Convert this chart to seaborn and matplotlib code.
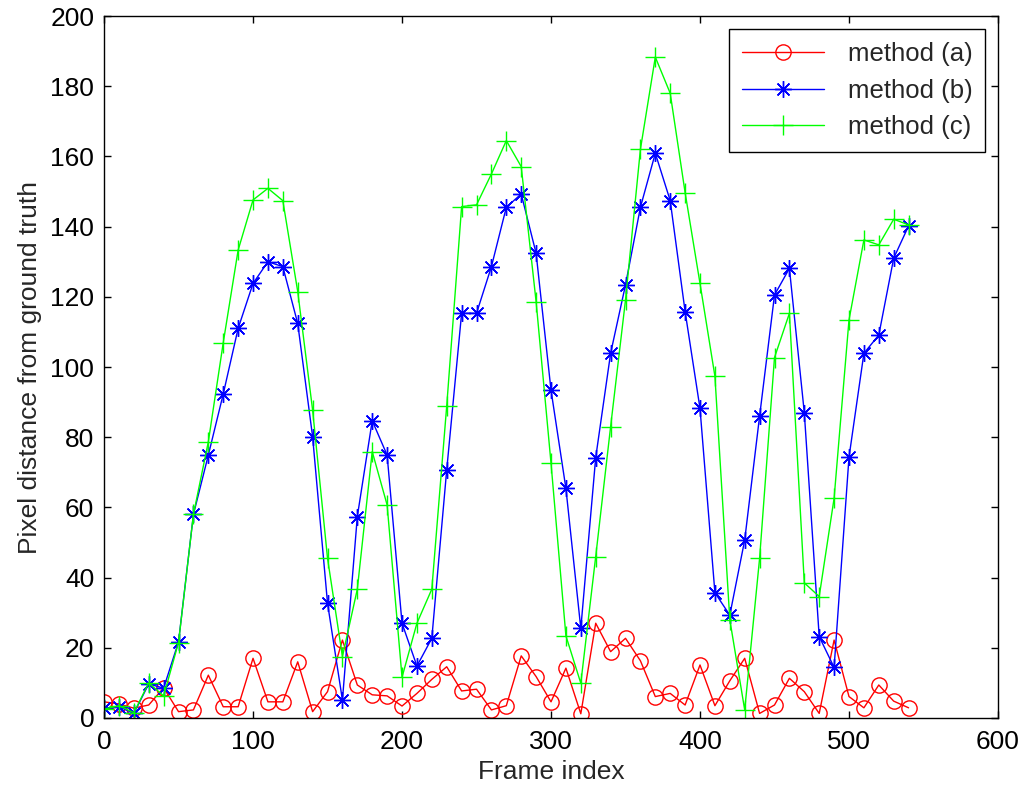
import numpy as np
import pandas as pd
import matplotlib
matplotlib.use('Agg')
import matplotlib.pyplot as plt
import seaborn as sns

# frame indices (every 10 frames)
frames = list(range(0, 550, 10))

# pixel distance from ground truth
method_a = [4.6, 4.0, 2.8, 3.7, 8.6, 1.8, 2.3, 12.2, 3.2, 3.2,
            17.0, 4.6, 4.6, 16.0, 1.8, 7.5, 22.2, 9.4, 6.6, 6.3,
            3.4, 7.0, 11.0, 14.6, 7.7, 8.2, 2.3, 3.5, 17.7, 11.8,
            4.6, 14.2, 1.2, 27.0, 18.9, 22.7, 16.3, 6.1, 7.0, 3.7,
            15.1, 3.5, 10.6, 17.0, 1.3, 3.7, 11.3, 7.5, 1.3, 22.2,
            6.1, 2.9, 9.4, 4.8, 2.9]
method_b = [2.8, 3.2, 1.3, 9.7, 8.5, 21.7, 58.0, 74.9, 92.3, 111.0,
            123.8, 130.0, 128.6, 112.4, 80.1, 32.7, 5.1, 57.4, 84.7, 74.9,
            27.0, 14.8, 22.7, 70.7, 115.3, 115.3, 128.6, 145.5, 149.3, 132.4,
            93.4, 65.4, 25.5, 74.2, 103.9, 123.4, 145.5, 160.9, 147.4, 115.8,
            88.2, 35.7, 29.3, 50.7, 86.0, 120.5, 128.1, 87.0, 23.2, 14.4,
            74.3, 103.9, 109.1, 131.0, 140.2]
method_c = [2.5, 3.5, 1.5, 10.0, 6.3, 21.5, 58.0, 78.7, 106.9, 133.3,
            147.6, 150.9, 147.4, 121.5, 87.7, 45.5, 17.5, 36.7, 75.9, 60.7,
            11.6, 27.0, 36.7, 88.9, 145.7, 146.2, 155.0, 164.5, 157.1, 118.6,
            72.6, 23.4, 9.9, 46.0, 83.0, 119.1, 162.0, 188.3, 178.0, 149.7,
            123.8, 97.4, 28.0, 2.3, 45.5, 102.7, 115.3, 38.5, 34.6, 62.6,
            113.4, 136.2, 134.8, 142.1, 140.5]

labels = ['method (a)', 'method (b)', 'method (c)']

sns.set_style('white')
plt.rcParams['font.family'] = ['Liberation Sans', 'DejaVu Sans']

fig = plt.figure(figsize=(10.26, 7.93), dpi=100)
ax = fig.add_axes([0.1014, 0.0946, 0.8713, 0.8852])

# method (a): open red circles
sns.lineplot(x=frames, y=method_a, ax=ax, color='#ff0000', linewidth=1,
             marker='o', markersize=11, markerfacecolor='none',
             markeredgecolor='#ff0000', markeredgewidth=1, label=labels[0])
# method (b): blue asterisks
sns.lineplot(x=frames, y=method_b, ax=ax, color='#0000ff', linewidth=1,
             marker=(8, 2, 0), markersize=12, markeredgecolor='#0000ff',
             markeredgewidth=1, label=labels[1])
# method (c): green plus signs
sns.lineplot(x=frames, y=method_c, ax=ax, color='#00ff00', linewidth=1,
             marker='+', markersize=15, markeredgecolor='#00ff00',
             markeredgewidth=1, label=labels[2])

ax.set_xlim(0, 600)
ax.set_ylim(0, 200)
ax.set_xticks(range(0, 601, 100))
ax.set_yticks(range(0, 201, 20))
ax.set_xlabel('Frame index', fontsize=19, labelpad=4)
ax.set_ylabel('Pixel distance from ground truth', fontsize=19, labelpad=6)
ax.tick_params(direction='in', length=5, width=1, top=True, right=True,
               bottom=True, left=True, labelsize=19, colors='black')
ax.tick_params(axis='x', pad=9)
ax.tick_params(axis='y', pad=7)
for s in ax.spines.values():
    s.set_color('black')
    s.set_linewidth(1)

leg = ax.legend(loc='upper right', fontsize=18.5, frameon=True, fancybox=False,
                edgecolor='black', framealpha=1, handlelength=3.2,
                borderaxespad=0.5, labelspacing=0.5, borderpad=0.5,
                handletextpad=0.9)
leg.get_frame().set_linewidth(1)

fig.savefig('out.png', dpi=100, facecolor='white')
